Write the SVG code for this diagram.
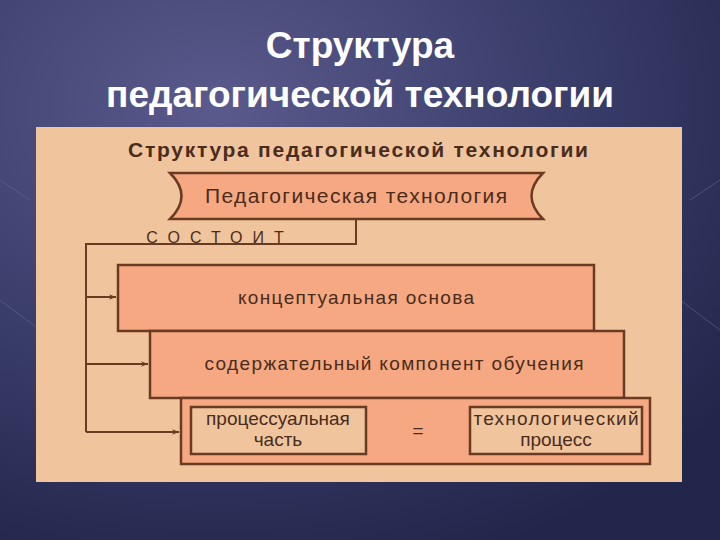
<svg xmlns="http://www.w3.org/2000/svg" width="720" height="540" viewBox="0 0 720 540">
<defs>
<radialGradient id="bg" cx="0.3" cy="0.2" r="0.9">
<stop offset="0" stop-color="#5a5a8c"/><stop offset="0.6" stop-color="#363a66"/><stop offset="1" stop-color="#22264a"/>
</radialGradient>
<marker id="ar" viewBox="0 0 10 10" refX="10" refY="5" markerWidth="10" markerHeight="7" orient="auto" markerUnits="userSpaceOnUse"><path d="M0,1 L10,5 L0,9 L3,5 z" fill="#6b3a22"/></marker>
<style>
.t{font-family:"Liberation Sans",Arial,sans-serif;fill:#4a2c1c;text-anchor:middle}
.b{fill:#f5a882;stroke:#6b3a22;stroke-width:2.5}
.c{fill:none;stroke:#6b3a22;stroke-width:2}
</style>
</defs>
<rect width="720" height="540" fill="url(#bg)"/>
<g stroke="#6d6f9a" stroke-width="1" opacity="0.5" fill="none">
<path d="M0,300 L40,330 M690,200 L720,180 M680,300 L720,330 M0,180 L30,200"/>
</g>
<text x="360" y="58" font-family="Liberation Sans,Arial,sans-serif" font-size="37" font-weight="bold" fill="#ffffff" text-anchor="middle">Структура</text>
<text x="360" y="107" font-family="Liberation Sans,Arial,sans-serif" font-size="37" font-weight="bold" fill="#ffffff" text-anchor="middle">педагогической технологии</text>
<rect x="36" y="127" width="646" height="355" fill="#f0c49c"/>
<text class="t" x="358" y="157" font-size="21" font-weight="bold" textLength="460">Структура  педагогической  технологии</text>
<g id="banner">
<path d="M170,173 L543,173 Q520,196 543,219 L170,219 Q193,196 170,173 z" class="b"/>
<text class="t" x="356" y="203" font-size="21" textLength="302">Педагогическая  технология</text>
</g>
<g id="connectors">
<path class="c" d="M356,219 L356,244 L86,244 L86,432"/>
<path class="c" d="M86,297 L116,297" marker-end="url(#ar)"/>
<path class="c" d="M86,364 L148,364" marker-end="url(#ar)"/>
<path class="c" d="M86,432 L179,432" marker-end="url(#ar)"/>
</g>
<text class="t" x="220" y="243" font-size="16" letter-spacing="10">СОСТОИТ</text>
<g id="n1"><rect class="b" x="118" y="265" width="476" height="66"/><text class="t" x="356" y="304" font-size="19" textLength="236">концептуальная  основа</text></g>
<g id="n2"><rect class="b" x="150" y="331" width="474" height="67"/><text class="t" x="394" y="370" font-size="19" textLength="379">содержательный  компонент  обучения</text></g>
<g id="n3"><rect class="b" x="181" y="398" width="469" height="66"/>
<rect x="191" y="407" width="175" height="47" fill="#f0c49c" stroke="#6b3a22" stroke-width="2.5"/>
<text class="t" x="278" y="425" font-size="19">процессуальная</text><text class="t" x="278" y="446" font-size="19">часть</text>
<text class="t" x="418" y="437" font-size="19">=</text>
<rect x="470" y="407" width="172" height="47" fill="#f0c49c" stroke="#6b3a22" stroke-width="2.5"/>
<text class="t" x="556" y="425" font-size="19" textLength="165">технологический</text><text class="t" x="556" y="446" font-size="19">процесс</text></g>
</svg>
